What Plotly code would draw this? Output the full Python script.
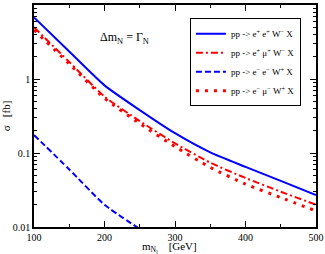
import plotly.graph_objects as go

masses = [100, 150, 200, 250, 300, 350, 400, 450, 500]
sig_ee_wm = [6.8, 2.35, 0.82, 0.38, 0.185, 0.102, 0.065, 0.042, 0.027]
sig_emu_wm = [5.0, 1.7, 0.58, 0.27, 0.135, 0.074, 0.046, 0.030, 0.020]
masses_ee_wp = [100, 150, 200, 250]
sig_ee_wp = [0.175, 0.060, 0.020, 0.0094]
sig_emu_wp = [4.6, 1.6, 0.55, 0.25, 0.122, 0.064, 0.038, 0.025, 0.0165]

names = [
    "pp -> e<sup>+</sup> e<sup>+</sup> W<sup>\u2212</sup> X",
    "pp -> e<sup>+</sup> \u03bc<sup>+</sup> W<sup>\u2212</sup> X",
    "pp -> e<sup>\u2212</sup> e<sup>\u2212</sup> W<sup>+</sup> X",
    "pp -> e<sup>\u2212</sup> \u03bc<sup>\u2212</sup> W<sup>+</sup> X",
]

fig = go.Figure()
fig.add_trace(go.Scatter(x=masses, y=sig_ee_wm, mode="lines", name=names[0],
                         line=dict(color="#0000ff", width=2, shape="spline", smoothing=0.6)))
fig.add_trace(go.Scatter(x=masses, y=sig_emu_wm, mode="lines", name=names[1],
                         line=dict(color="#ff0000", width=2, dash="7px,3px,2px,3px", shape="spline", smoothing=0.6)))
fig.add_trace(go.Scatter(x=masses_ee_wp, y=sig_ee_wp, mode="lines", name=names[2],
                         line=dict(color="#0000ff", width=2, dash="6px,3px", shape="spline", smoothing=0.6)))
fig.add_trace(go.Scatter(x=masses, y=sig_emu_wp, mode="lines", name=names[3],
                         line=dict(color="#ff0000", width=3, dash="3px,6px", shape="spline", smoothing=0.6)))

serif = "Liberation Serif, Times New Roman, serif"

fig.add_annotation(x=228, y=0.55, xref="x", yref="y", showarrow=False,
                   text="\u0394m<sub>N</sub> = \u0393<sub>N</sub>",
                   font=dict(family=serif, size=12, color="black"))
fig.add_annotation(x=0.48, y=-0.093, xref="paper", yref="paper", showarrow=False,
                   xanchor="center", yanchor="middle",
                   text="m<sub>N<sub>l</sub></sub>    [GeV]",
                   font=dict(family=serif, size=11, color="black"))

fig.update_layout(
    width=325, height=254,
    margin=dict(l=34, r=9, t=5, b=27, autoexpand=False),
    paper_bgcolor="white", plot_bgcolor="white",
    font=dict(family=serif, size=10, color="black"),
    legend=dict(x=0.553, y=0.94, xanchor="left", yanchor="top",
                bordercolor="black", borderwidth=1, bgcolor="white",
                font=dict(family=serif, size=9), tracegroupgap=0,
                itemwidth=30),
    showlegend=True,
)
fig.update_xaxes(
    range=[100, 500], tickvals=[100, 200, 300, 400, 500],
    ticks="inside", ticklen=6, tickwidth=1, tickcolor="black",
    showline=True, linecolor="black", linewidth=1.5, mirror="allticks",
    showgrid=False, zeroline=False, automargin=False,
    minor=dict(ticks="inside", ticklen=3, dtick=50, tickcolor="black", showgrid=False),
    tickfont=dict(family=serif, size=10),
)
fig.update_yaxes(
    type="log", range=[-2, 1], tickvals=[0.01, 0.1, 1, 10], ticktext=["0.01", "0.1", "1", "10"],
    ticks="inside", ticklen=6, tickwidth=1, tickcolor="black",
    showline=True, linecolor="black", linewidth=1.5, mirror="allticks",
    showgrid=False, zeroline=False, automargin=False,
    minor=dict(ticks="inside", ticklen=3, dtick="D1", tickcolor="black", showgrid=False),
    title=dict(text="\u03c3   [fb]", standoff=4, font=dict(family=serif, size=11)),
    tickfont=dict(family=serif, size=10),
)

fig.write_html("out.html", config={"displayModeBar": False},
               post_script="document.body.style.margin='0';document.body.style.overflow='hidden';")
